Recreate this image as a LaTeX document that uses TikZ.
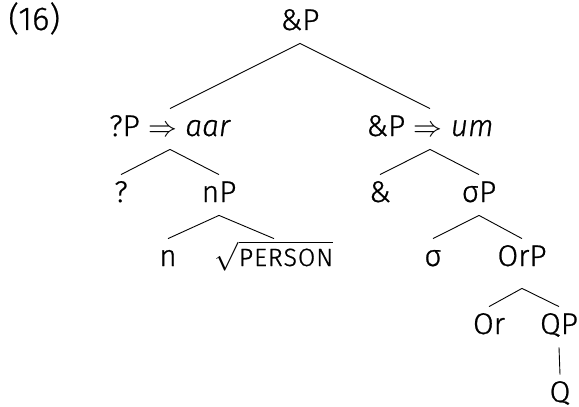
\documentclass[tikz,border=0pt]{standalone}
\usepackage{fontspec}
\setmainfont{Fira Sans}[UprightFont=* Light, ItalicFont=* Light Italic, FakeBold=0.8]
\begin{document}
\begin{tikzpicture}[x=0.5pt,y=-0.5pt,
  every node/.style={inner sep=0pt},
  lab/.style={anchor=base, text height=10pt, text depth=3pt, inner xsep=0pt, inner ysep=3.5pt, font=\fontsize{15}{17}\selectfont},
  edge/.style={line width=0.45pt}]
\useasboundingbox (0,0) rectangle (579,407);
\node[anchor=base west, font=\fontsize{16.5}{18}\selectfont] (ex) at (8,30) {(16)};
\node[lab] (root) at (300,30) {\&P};
\node[lab] (a1) at (170,136) {?P $\Rightarrow$ \textit{aar}};
\node[lab] (a2) at (430,136) {\&P $\Rightarrow$ \textit{um}};
\node[lab] (b1) at (121,202) {?};
\node[lab] (b2) at (219,202) {nP};
\node[lab] (b3) at (380,202) {\&};
\node[lab] (b4) at (479,202) {σP};
\node[lab] (c1) at (168,266) {n};
\node[lab] (c2) at (274,266) {$\sqrt{\mbox{\fontsize{12.5}{14}\selectfont\addfontfeature{LetterSpace=4}PERSON}}$};
\node[lab] (c3) at (433,266) {σ};
\node[lab, text depth=7.5pt] (c4) at (522,266) {OrP};
\node[lab] (d1) at (489,334) {Or};
\node[lab] (d2) at (559,334) {QP};
\node[lab] (e1) at (560,402) {Q};
\draw[edge] (root.south) -- (a1.north);
\draw[edge] (root.south) -- (a2.north);
\draw[edge] (a1.south) -- (b1.north);
\draw[edge] (a1.south) -- (b2.north);
\draw[edge] (a2.south) -- (b3.north);
\draw[edge] (a2.south) -- (b4.north);
\draw[edge] (b2.south) -- (c1.north);
\draw[edge] (b2.south) -- (c2.north);
\draw[edge] (b4.south) -- (c3.north);
\draw[edge] (b4.south) -- (c4.north);
\draw[edge] (c4.south) -- (d1.north);
\draw[edge] (c4.south) -- (d2.north);
\draw[edge] (d2.south) -- (e1.north);
\end{tikzpicture}
\end{document}
